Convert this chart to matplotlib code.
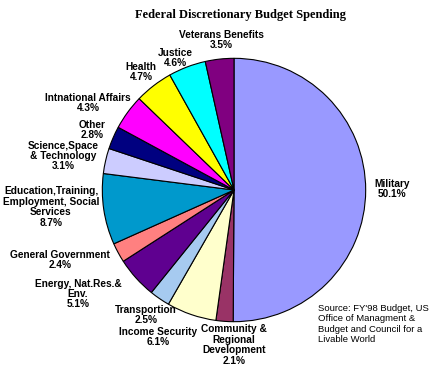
import matplotlib
matplotlib.use("Agg")
import matplotlib.pyplot as plt

# slices, clockwise from 12 o'clock
categories = ["Military", "Community & Regional Development", "Income Security",
              "Transportion", "Energy, Nat.Res.& Env.", "General Government",
              "Education,Training, Employment, Social Services",
              "Science,Space & Technology", "Other", "Intnational Affairs",
              "Health", "Justice", "Veterans Benefits"]
shares = [50.1, 2.1, 6.1, 2.5, 5.1, 2.4, 8.7, 3.1, 2.8, 4.3, 4.7, 4.6, 3.5]
colors = ["#9999FF", "#993366", "#FFFFCC", "#A6CAF0", "#5F0090", "#FF8080",
          "#0099CC", "#CCCCFF", "#000080", "#FF00FF", "#FFFF00", "#00FFFF",
          "#800080"]

# label text as broken in the original, with pixel position of its centre
label_lines = {
    "Military": "Military",
    "Community & Regional Development": "Community &\nRegional\nDevelopment",
    "Income Security": "Income Security",
    "Transportion": "Transportion",
    "Energy, Nat.Res.& Env.": "Energy, Nat.Res.&\nEnv.",
    "General Government": "General Government",
    "Education,Training, Employment, Social Services": "Education,Training,\nEmployment, Social\nServices",
    "Science,Space & Technology": "Science,Space\n& Technology",
    "Other": "Other",
    "Intnational Affairs": "Intnational Affairs",
    "Health": "Health",
    "Justice": "Justice",
    "Veterans Benefits": "Veterans Benefits",
}
label_pos = {
    "Military": (392, 189),
    "Community & Regional Development": (234, 345),
    "Income Security": (158, 337),
    "Transportion": (146, 315),
    "Energy, Nat.Res.& Env.": (78, 294),
    "General Government": (60, 260),
    "Education,Training, Employment, Social Services": (51, 207),
    "Science,Space & Technology": (63, 156),
    "Other": (92, 130),
    "Intnational Affairs": (88, 103),
    "Health": (141, 72),
    "Justice": (175, 58),
    "Veterans Benefits": (221, 40),
}

W, H = 444, 367
fig = plt.figure(figsize=(W / 100, H / 100), dpi=100)
fig.patch.set_facecolor("white")

cx, cy, r = 234, 190, 133
ax = fig.add_axes([(cx - r) / W, (H - cy - r) / H, 2 * r / W, 2 * r / H])
ax.pie(shares, colors=colors, startangle=90, counterclock=False, radius=1,
       wedgeprops=dict(edgecolor="black", linewidth=0.8))
ax.set_xlim(-1.01, 1.01)
ax.set_ylim(-1.01, 1.01)
ax.set_aspect("equal")
ax.axis("off")

for cat, val in zip(categories, shares):
    x, y = label_pos[cat]
    fig.text(x / W, 1 - y / H, f"{label_lines[cat]}\n{val}%", ha="center", va="center",
             fontsize=7.3, fontweight="bold", family="Liberation Sans", linespacing=1.05)

fig.text(240 / W, 1 - 15 / H, "Federal Discretionary Budget Spending", ha="center",
         va="center", fontsize=9, fontweight="bold", family="Liberation Serif")

fig.text(318 / W, 1 - 324 / H,
         "Source: FY'98 Budget, US\nOffice of Managment &\nBudget and Council for a\nLivable World",
         ha="left", va="center", fontsize=6.8, family="Liberation Sans", linespacing=1.2)

fig.savefig("out.png", dpi=100)
